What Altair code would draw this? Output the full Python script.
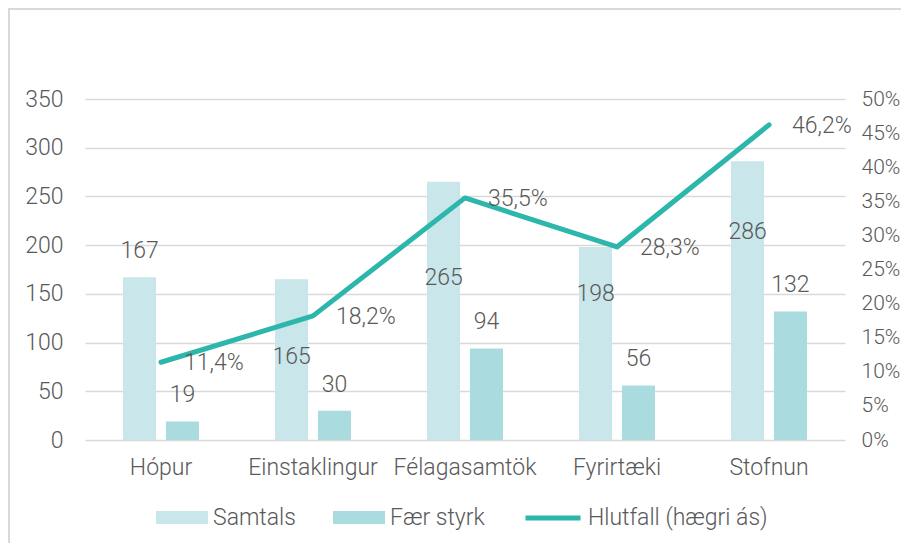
import altair as alt
import pandas as pd

categories = ["Hópur", "Einstaklingur", "Félagasamtök", "Fyrirtæki", "Stofnun"]
samtals = [167, 165, 265, 198, 286]
faer_styrk = [19, 30, 94, 56, 132]
hlutfall = [0.114, 0.182, 0.355, 0.283, 0.462]
# where the "Samtals" value labels sit in the picture (left-axis units)
samtals_label_at = [194, 85, 166, 150, 214]

series_names = ["Samtals", "Fær styrk"]
line_name = "Hlutfall (hægri ás)"

FONT = "Roboto"
FS = 23
TXT = "#595959"
C_SAM = "#c9e6ea"
C_FAER = "#aadcdf"
C_LINE = "#2cb6ac"

rows = []
for i, c in enumerate(categories):
    rows.append({"cat": c, "series": "Samtals", "value": samtals[i], "lab": samtals_label_at[i]})
    rows.append({"cat": c, "series": "Fær styrk", "value": faer_styrk[i], "lab": faer_styrk[i]})
bars_df = pd.DataFrame(rows)
line_df = pd.DataFrame({"cat": categories, "pct": hlutfall, "series": [line_name] * len(categories)})

W, H = 760, 341

x_enc = alt.X(
    "cat:N", sort=categories,
    scale=alt.Scale(paddingInner=0.5, paddingOuter=0.25),
    axis=alt.Axis(title=None, labelAngle=0, domain=False, ticks=False, grid=False, labelPadding=16,
                  labelFontSize=FS, labelColor=TXT, labelFont=FONT, labelFontWeight=300),
)
xoff = alt.XOffset("series:N", sort=series_names,
                   scale=alt.Scale(domain=series_names, paddingInner=0.23, paddingOuter=0))

left_axis = alt.Axis(title=None, values=list(range(0, 351, 50)), domain=False, ticks=False,
                     labelPadding=22, labelFontSize=FS, labelColor=TXT, labelFont=FONT,
                     labelFontWeight=300, labelOverlap=False,
                     grid=True, gridColor="#d9d9d9", gridWidth=1.5)
left_scale = alt.Scale(domain=[0, 350], nice=False)

base_bars = alt.Chart(bars_df)

bars = base_bars.mark_bar().encode(
    x=x_enc,
    xOffset=xoff,
    y=alt.Y("value:Q", scale=left_scale, axis=left_axis),
    color=alt.Color(
        "series:N", sort=series_names,
        scale=alt.Scale(domain=series_names, range=[C_SAM, C_FAER]),
        legend=alt.Legend(
            title=None, orient="none", legendX=71, legendY=392.5, direction="horizontal",
            symbolType="M-1,-0.25L1,-0.25L1,0.25L-1,0.25Z", symbolSize=2704,
            symbolStrokeWidth=0, symbolOpacity=1,
            labelFontSize=FS, labelColor=TXT, labelFont=FONT, labelFontWeight=300,
            labelOffset=5, columnPadding=37, labelLimit=0,
        ),
    ),
)

faer_text = base_bars.transform_filter(alt.datum.series == "Fær styrk").mark_text(
    baseline="middle", dy=-26, fontSize=FS, color=TXT, font=FONT, fontWeight=300
).encode(x=x_enc, xOffset=xoff, y=alt.Y("lab:Q", scale=left_scale, axis=left_axis),
         text=alt.Text("value:Q"))

sam_text = base_bars.transform_filter(alt.datum.series == "Samtals").mark_text(
    baseline="middle", fontSize=FS, color=TXT, font=FONT, fontWeight=300
).encode(x=x_enc, xOffset=xoff, y=alt.Y("lab:Q", scale=left_scale, axis=left_axis),
         text=alt.Text("value:Q"))

frame = alt.Chart(pd.DataFrame({"a": [0]})).mark_rect(
    fill=None, stroke="#d9d9d9", strokeWidth=2
).encode(x=alt.value(-76), x2=alt.value(W + 200), y=alt.value(-90), y2=alt.value(H + 300))

left = alt.layer(frame, bars, faer_text, sam_text)

right_axis = alt.Axis(title=None, orient="right", values=[i / 100 for i in range(0, 51, 5)],
                      format=".0%", domain=False, ticks=False, grid=False, labelPadding=16,
                      labelOverlap=False,
                      labelFontSize=21, labelColor=TXT, labelFont=FONT, labelFontWeight=300)
right_scale = alt.Scale(domain=[0, 0.5], nice=False)

base_line = alt.Chart(line_df)
line = base_line.mark_line(strokeWidth=5, strokeCap="round", strokeJoin="round").encode(
    x=x_enc,
    y=alt.Y("pct:Q", scale=right_scale, axis=right_axis),
    stroke=alt.Stroke(
        "series:N",
        scale=alt.Scale(domain=[line_name], range=[C_LINE]),
        legend=alt.Legend(
            title=None, orient="none", legendX=438, legendY=389,
            symbolType="stroke", symbolSize=3025, symbolStrokeWidth=5,
            labelFontSize=FS, labelColor=TXT, labelFont=FONT, labelFontWeight=300,
            labelOffset=5, labelLimit=0,
        ),
    ),
)
line_text = base_line.transform_calculate(
    lbl="replace(format(datum.pct, '.1%'), '.', ',')"
).mark_text(align="left", baseline="middle", dx=23, dy=1, fontSize=FS, color=TXT,
            font=FONT, fontWeight=300).encode(
    x=x_enc, y=alt.Y("pct:Q", scale=right_scale, axis=right_axis), text="lbl:N")

right = alt.layer(line, line_text)

chart = alt.layer(left, right).resolve_scale(y="independent").properties(
    width=W, height=H,
    autosize=alt.AutoSizeParams(type="none"),
    padding={"left": 77, "top": 91, "right": 56, "bottom": 103},
).configure(font=FONT).configure_view(strokeWidth=0)

chart.save("out.html", embed_options={"renderer": "svg", "actions": False})
